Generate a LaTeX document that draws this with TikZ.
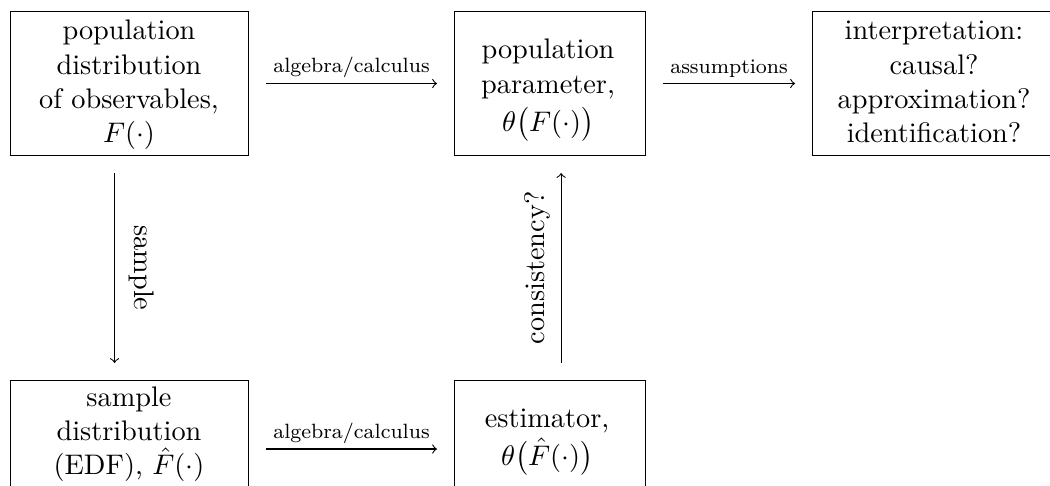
\documentclass[tikz,border=0pt]{standalone}
\usepackage{amsmath}
\begin{document}
\begin{tikzpicture}[x=0.387pt,y=-0.387pt,
  box/.style={draw, line width=0.42pt, inner sep=0pt, anchor=north west},
  txt/.style={anchor=base, inner sep=0pt, text width=110pt, align=center,
    font=\fontsize{10.95}{13.25}\selectfont},
  arr/.style={->, line width=0.42pt, shorten <=6.6pt, shorten >=6.6pt},
  lab/.style={font=\fontsize{8}{9.5}\selectfont, inner sep=2pt}]
\useasboundingbox (0,0) rectangle (1050,485);
\clip (0,0) rectangle (1050,485);
% boxes
\node[box, minimum width=92.1pt, minimum height=55.7pt] (b1) at (10,11) {};
\node[box, minimum width=73.9pt, minimum height=55.7pt] (b2) at (454,11) {};
\node[box, minimum width=94.8pt, minimum height=55.7pt] (b3) at (812,11) {};
\node[box, minimum width=92.1pt, minimum height=46.4pt] (b4) at (10,380) {};
\node[box, minimum width=73.9pt, minimum height=46.4pt] (b5) at (454,380) {};
% texts
\node[txt] (t1) at (129,40) {population\\distribution\\of observables,\\$F(\cdot)$};
\node[txt] (t2) at (548,59) {population\\parameter,\\[1.5pt]$\theta\bigl(F(\cdot)\bigr)$};
\node[txt] (t3) at (934,40) {interpretation:\\causal?\\approximation?\\identification?};
\node[txt] (t4) at (129,406) {sample\\distribution\\(EDF), $\hat{F}(\cdot)$};
\node[txt] (t5) at (547,427) {estimator,\\[1.5pt]$\theta\bigl(\hat{F}(\cdot)\bigr)$};
% connectors
\draw[arr] (b1.east) -- (b2.west) node[lab, midway, above] (l12) {algebra/calculus};
\draw[arr] (b2.east) -- (b3.west) node[lab, midway, above] (l23) {assumptions};
\draw[arr] (b4.east |- 0,449) -- (b5.west |- 0,449) node[lab, midway, above] (l45) {algebra/calculus};
\draw[arr] ([xshift=-5.8pt]b1.south) -- ([xshift=-5.8pt]b4.north)
  node[midway, anchor=south, rotate=-90, inner sep=5.4pt, font=\fontsize{10.95}{13.25}\selectfont] (l14) {sample};
\draw[arr] ([xshift=4.3pt]b5.north) -- ([xshift=4.3pt]b2.south)
  node[midway, anchor=south, rotate=90, inner sep=3.9pt, font=\fontsize{10.95}{13.25}\selectfont] (l52) {consistency?};
\end{tikzpicture}
\end{document}
